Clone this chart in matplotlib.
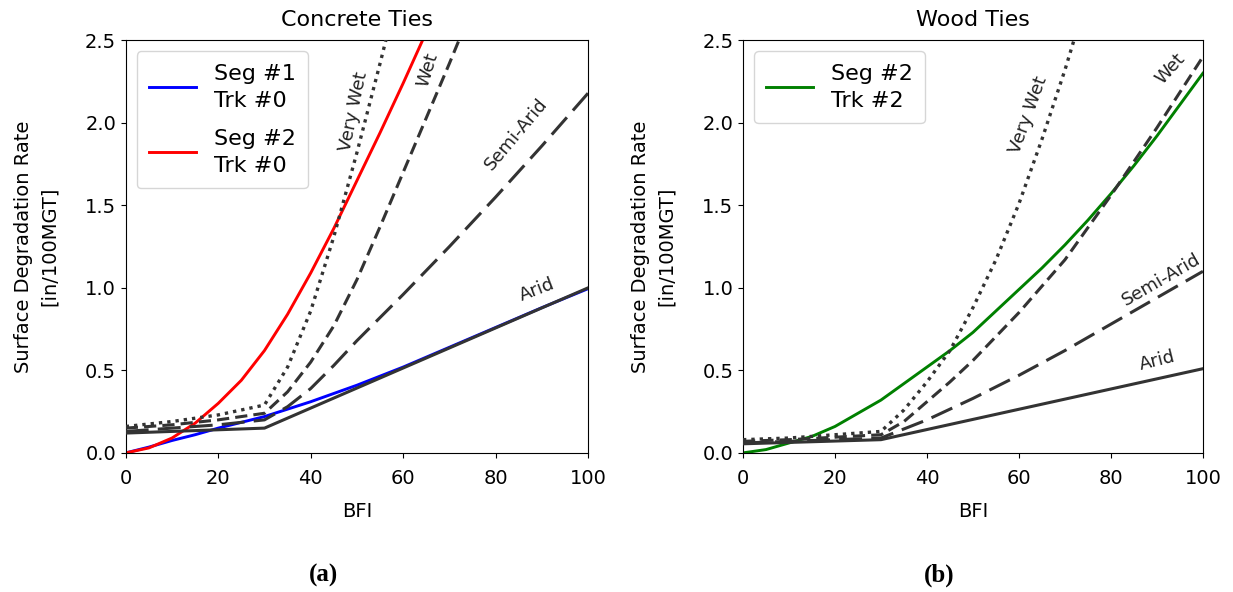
import matplotlib
matplotlib.use('Agg')
import matplotlib.pyplot as plt

# ---- Concrete ties (a) ----
c_bfi_seg = [0, 5, 10, 15, 20, 25, 30, 35, 40, 45, 50, 55, 60, 65]
c_seg2 = [0.0, 0.03, 0.09, 0.18, 0.30, 0.44, 0.62, 0.84, 1.09, 1.36, 1.65, 1.94, 2.24, 2.55]
c_bfi_seg1 = [0, 5, 10, 15, 20, 25, 30, 40, 50, 60, 70, 80, 90, 100]
c_seg1 = [0.0, 0.035, 0.075, 0.11, 0.15, 0.185, 0.22, 0.31, 0.41, 0.52, 0.64, 0.76, 0.88, 0.995]

c_vwet_x = [0, 10, 20, 30, 35, 40, 45, 50, 55, 60]
c_vwet = [0.16, 0.19, 0.23, 0.29, 0.52, 0.86, 1.31, 1.82, 2.36, 2.92]
c_wet_x = [0, 10, 20, 30, 35, 40, 45, 50, 55, 60, 65, 70, 75]
c_wet = [0.15, 0.17, 0.20, 0.24, 0.37, 0.55, 0.77, 1.05, 1.37, 1.70, 2.03, 2.36, 2.70]
c_semi_x = [0, 10, 20, 30, 35, 40, 45, 50, 60, 70, 80, 90, 100]
c_semi = [0.13, 0.15, 0.17, 0.20, 0.28, 0.39, 0.53, 0.68, 0.96, 1.25, 1.55, 1.86, 2.18]
c_arid_x = [0, 30, 100]
c_arid = [0.12, 0.15, 1.0]

# ---- Wood ties (b) ----
w_bfi_seg = [0, 5, 10, 15, 20, 25, 30, 35, 40, 45, 50, 55, 60, 65, 70, 75, 80, 85, 90, 95, 100]
w_seg2 = [0.0, 0.02, 0.06, 0.10, 0.16, 0.24, 0.32, 0.42, 0.52, 0.62, 0.73, 0.86, 0.99, 1.12,
          1.26, 1.41, 1.57, 1.74, 1.92, 2.11, 2.30]

w_vwet_x = [0, 10, 20, 30, 35, 40, 45, 50, 55, 60, 65, 70, 75]
w_vwet = [0.08, 0.09, 0.11, 0.13, 0.26, 0.43, 0.62, 0.88, 1.17, 1.51, 1.90, 2.32, 2.78]
w_wet_x = [0, 10, 20, 30, 35, 40, 45, 50, 60, 70, 80, 90, 100]
w_wet = [0.07, 0.08, 0.095, 0.11, 0.19, 0.31, 0.43, 0.56, 0.85, 1.17, 1.56, 1.97, 2.40]
w_semi_x = [0, 10, 20, 30, 40, 50, 60, 70, 80, 90, 100]
w_semi = [0.06, 0.07, 0.08, 0.09, 0.20, 0.33, 0.47, 0.62, 0.78, 0.94, 1.10]
w_arid_x = [0, 30, 100]
w_arid = [0.055, 0.08, 0.51]

plt.rcParams['font.family'] = 'DejaVu Sans'
plt.rcParams['font.size'] = 14

fig = plt.figure(figsize=(12.33, 5.92), dpi=100)
ax1 = fig.add_axes([0.102, 0.235, 0.375, 0.697])
ax2 = fig.add_axes([0.6026, 0.235, 0.373, 0.697])

gray = '#333333'
lw_k = 2.2


def climate_lines(ax, vx, vy, wx, wy, sx, sy, ax_, ay):
    ax.plot(vx, vy, color=gray, lw=2.4, linestyle=(0, (1, 1.5)), zorder=3)
    ax.plot(wx, wy, color=gray, lw=lw_k, linestyle=(0, (4, 2)), zorder=3)
    ax.plot(sx, sy, color=gray, lw=lw_k, linestyle=(0, (7.5, 3)), zorder=3)
    ax.plot(ax_, ay, color=gray, lw=lw_k, linestyle='-', zorder=3)


# (a) concrete
ax1.plot(c_bfi_seg1, c_seg1, color='blue', lw=2.1, label='Seg #1\nTrk #0', zorder=2)
ax1.plot(c_bfi_seg, c_seg2, color='red', lw=2.1, label='Seg #2\nTrk #0', zorder=2)
climate_lines(ax1, c_vwet_x, c_vwet, c_wet_x, c_wet, c_semi_x, c_semi, c_arid_x, c_arid)
tk = dict(fontsize=13, color='#222222', ha='center', va='center')
ax1.text(49.3, 2.07, 'Very Wet', rotation=78, **tk)
ax1.text(65.2, 2.32, 'Wet', rotation=73, **tk)
ax1.text(84.5, 1.93, 'Semi-Arid', rotation=50, **tk)
ax1.text(89, 0.99, 'Arid', rotation=21, **tk)
ax1.set_title('Concrete Ties', fontsize=16, pad=10)

# (b) wood
ax2.plot(w_bfi_seg, w_seg2, color='green', lw=2.1, label='Seg #2\nTrk #2', zorder=2)
climate_lines(ax2, w_vwet_x, w_vwet, w_wet_x, w_wet, w_semi_x, w_semi, w_arid_x, w_arid)
ax2.text(62, 2.05, 'Very Wet', rotation=70, **tk)
ax2.text(93, 2.33, 'Wet', rotation=48, **tk)
ax2.text(91, 1.05, 'Semi-Arid', rotation=30, **tk)
ax2.text(90, 0.56, 'Arid', rotation=14, **tk)
ax2.set_title('Wood Ties', fontsize=16, pad=10)

for ax in (ax1, ax2):
    ax.set_xlim(0, 100)
    ax.set_ylim(0, 2.5)
    ax.set_xticks([0, 20, 40, 60, 80, 100])
    ax.set_yticks([0.0, 0.5, 1.0, 1.5, 2.0, 2.5])
    ax.tick_params(axis='x', pad=8)
    ax.set_xlabel('BFI', fontsize=14, labelpad=10)
    yl = ax.set_ylabel('Surface Degradation Rate\n[in/100MGT]', fontsize=14, labelpad=19)
    yl.set_linespacing(1.45)
    leg = ax.legend(loc='upper left', fontsize=16, handlelength=2.1, labelspacing=0.8,
                    borderpad=0.55)
    for t in leg.get_texts():
        t.set_linespacing(1.45)

fig.text(0.262, 0.018, '(a)', fontsize=18, fontweight='bold',
         family='Liberation Serif', ha='center')
fig.text(0.762, 0.018, '(b)', fontsize=18, fontweight='bold',
         family='Liberation Serif', ha='center')

fig.savefig('out.png', dpi=100)
